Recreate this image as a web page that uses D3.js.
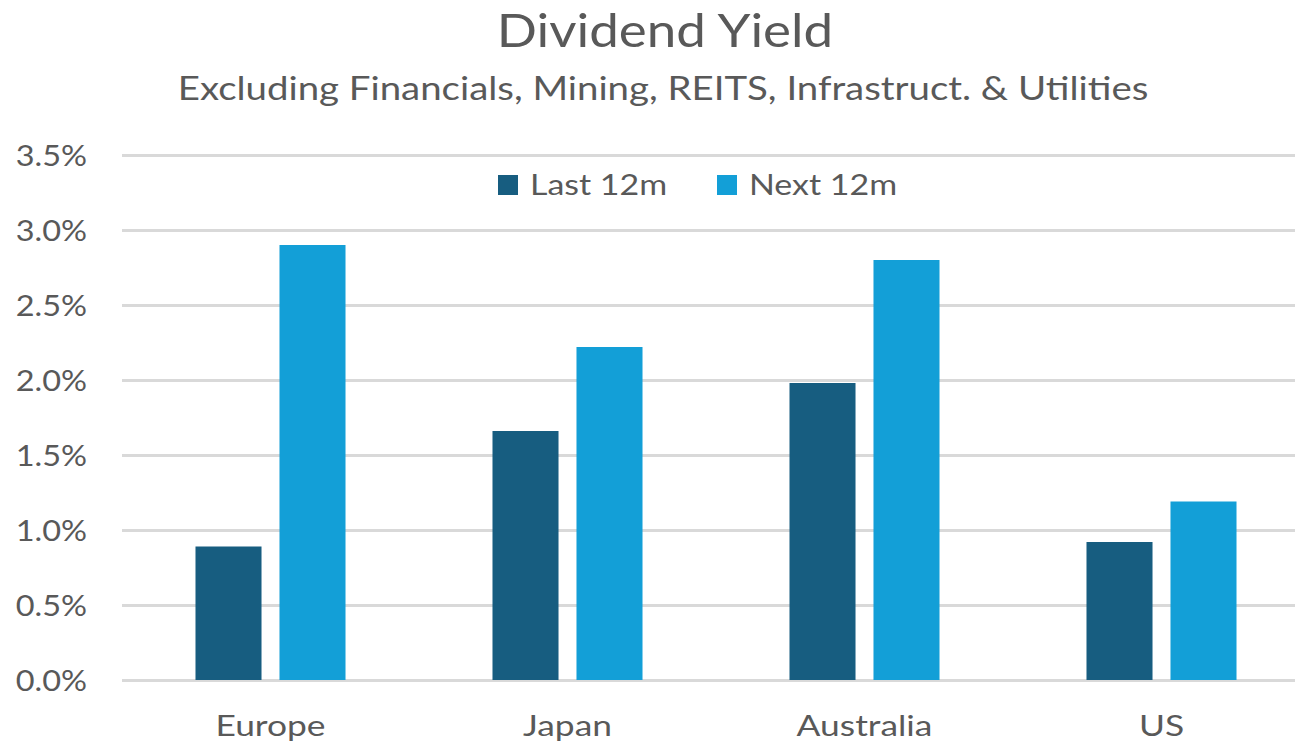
<!DOCTYPE html>
<html>
<head>
<meta charset="utf-8">
<script src="https://cdn.jsdelivr.net/npm/d3@7"></script>
<style>
  body { margin: 0; background: #fff; }
  svg { display: block; font-family: Lato, "Open Sans", sans-serif; }
</style>
</head>
<body>
<div id="chart"></div>
<script>
const regions = ["Europe", "Japan", "Australia", "US"];
const series = ["Last 12m", "Next 12m"];
const last12m = [0.89, 1.66, 1.98, 0.92];
const next12m = [2.90, 2.22, 2.80, 1.19];
const yTicks = [0, 0.5, 1.0, 1.5, 2.0, 2.5, 3.0, 3.5];

const width = 1295,
    height = 745;

const colors = { "Last 12m": "#175d80", "Next 12m": "#139fd7" };
const textColor = "#595959";

// the source text is set wider than Lato, so stretch it horizontally
const stretch = { title: 1.15, sub: 1.2, yTick: 1.12, xTick: 1.22, legend: 1.17 };

const rows = regions.map(function(r, i) {
  return { region: r, values: [
    { key: "Last 12m", value: last12m[i] },
    { key: "Next 12m", value: next12m[i] }
  ] };
});

const svg = d3.select("#chart").append("svg")
    .attr("width", width)
    .attr("height", height);

const x0 = d3.scaleBand()
    .domain(regions)
    .range([122, 1310])
    .padding(0);

const x1 = d3.scaleBand()
    .domain(series)
    .range([0, x0.bandwidth()])
    .paddingInner(0.214)
    .paddingOuter(0.875);

const y = d3.scaleLinear()
    .domain([0, 3.5])
    .range([680, 155]);

// title
svg.append("text")
    .attr("transform", "translate(665,47) scale(" + stretch.title + ",1)")
    .attr("text-anchor", "middle")
    .style("font-size", "46px")
    .style("fill", textColor)
    .text("Dividend Yield");

svg.append("text")
    .attr("transform", "translate(663,100) scale(" + stretch.sub + ",1)")
    .attr("text-anchor", "middle")
    .style("font-size", "32px")
    .style("fill", textColor)
    .text("Excluding Financials, Mining, REITS, Infrastruct. & Utilities");

// gridlines
const yAxis = d3.axisLeft(y)
    .tickValues(yTicks)
    .tickSize(-(1310 - 122))
    .tickPadding(0)
    .tickFormat(function(d) { return d3.format(".1f")(d) + "%"; });

const gy = svg.append("g")
    .attr("transform", "translate(122,0)")
    .call(yAxis);

gy.select(".domain").remove();
gy.selectAll(".tick line")
    .attr("stroke", "#d9d9d9")
    .attr("stroke-width", 3);
gy.selectAll(".tick text")
    .attr("x", 0)
    .attr("transform", "translate(-35,0) scale(" + stretch.yTick + ",1)")
    .style("font-size", "29px")
    .style("font-family", "Lato, sans-serif")
    .attr("fill", textColor)
    .attr("dy", "0.36em");

// bars
const groups = svg.selectAll("g.region")
    .data(rows)
  .enter().append("g")
    .attr("class", "region")
    .attr("transform", function(d) { return "translate(" + x0(d.region) + ",0)"; });

groups.selectAll("rect")
    .data(function(d) { return d.values; })
  .enter().append("rect")
    .attr("x", function(d) { return x1(d.key); })
    .attr("width", x1.bandwidth())
    .attr("y", function(d) { return y(d.value); })
    .attr("height", function(d) { return y(0) - y(d.value); })
    .attr("fill", function(d) { return colors[d.key]; });

// category labels
const xAxis = d3.axisBottom(x0).tickSize(0).tickPadding(35);
const gx = svg.append("g")
    .attr("transform", "translate(0,680)")
    .call(xAxis);
gx.select(".domain").remove();
gx.selectAll(".tick text")
    .attr("transform", "scale(" + stretch.xTick + ",1)")
    .style("font-size", "29px")
    .style("font-family", "Lato, sans-serif")
    .attr("fill", textColor);

// legend
const legendX = [498, 717];
const legend = svg.selectAll("g.legend")
    .data(series)
  .enter().append("g")
    .attr("class", "legend")
    .attr("transform", function(d, i) { return "translate(" + legendX[i] + ",175)"; });

legend.append("rect")
    .attr("width", 20)
    .attr("height", 20)
    .attr("fill", function(d) { return colors[d]; });

legend.append("text")
    .attr("transform", "translate(32,20) scale(" + stretch.legend + ",1)")
    .style("font-size", "29px")
    .style("fill", textColor)
    .text(function(d) { return d; });
</script>
</body>
</html>
